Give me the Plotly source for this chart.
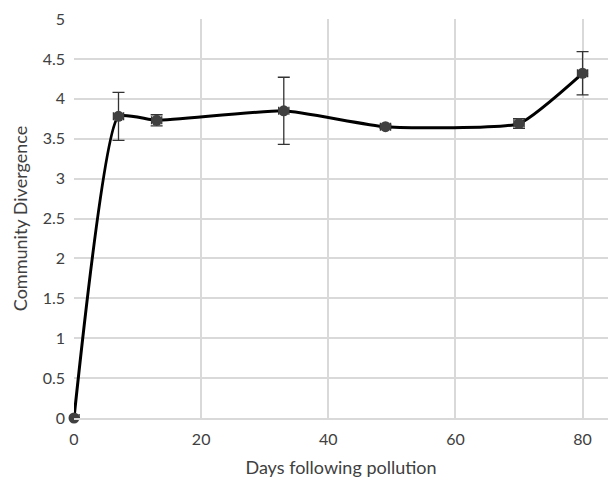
import plotly.graph_objects as go

days = [0, 7, 13, 33, 49, 70, 80]
divergence = [0.0, 3.78, 3.73, 3.85, 3.65, 3.69, 4.32]
err_y = [0.0, 0.30, 0.07, 0.42, 0.02, 0.06, 0.27]
err_x = [0.8, 0.8, 0.8, 0.8, 0.8, 0.8, 0.8]

fig = go.Figure()
fig.add_trace(go.Scatter(
    x=days, y=divergence,
    mode="lines",
    line=dict(color="black", width=3, shape="spline", smoothing=0.45),
    hoverinfo="skip", showlegend=False, cliponaxis=False,
))
fig.add_trace(go.Scatter(
    x=days, y=divergence,
    mode="markers",
    marker=dict(color="#404040", size=11),
    error_y=dict(type="data", array=err_y, color="#333333", thickness=1.3, width=6),
    error_x=dict(type="data", array=err_x, color="#333333", thickness=1.3, width=4),
    showlegend=False, cliponaxis=False,
))

font = "Lato, Open Sans, sans-serif"
fig.update_layout(
    width=609, height=482,
    margin=dict(l=74, r=1, t=19, b=64),
    paper_bgcolor="white", plot_bgcolor="white",
    font=dict(family=font, size=16, color="#404040"),
    xaxis=dict(
        range=[0, 84], tickvals=[0, 20, 40, 60, 80],
        showgrid=True, gridcolor="#d9d9d9", gridwidth=1.5,
        zeroline=False, showline=True, linecolor="#d9d9d9", linewidth=1.5,
        ticks="", ticklabelstandoff=6,
        title=dict(text="Days following pollution", font=dict(size=18, color="#404040"), standoff=14),
    ),
    yaxis=dict(
        range=[0, 5], dtick=0.5,
        showgrid=True, gridcolor="#d9d9d9", gridwidth=1.5,
        zeroline=False, showline=False,
        ticks="", ticklabelstandoff=8,
        title=dict(text="Community Divergence", font=dict(size=18, color="#404040"), standoff=10),
    ),
)
fig.write_html("out.html")
